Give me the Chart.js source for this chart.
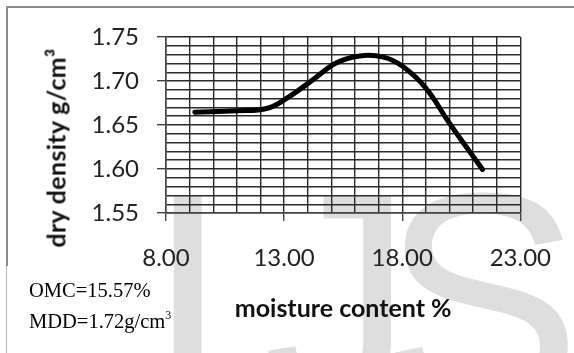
<!DOCTYPE html>
<html>
<head>
<meta charset="utf-8">
<script src="https://cdn.jsdelivr.net/npm/chart.js@4.4.1/dist/chart.umd.min.js"></script>
<style>
  html, body { margin: 0; padding: 0; background: #fff; }
  #wrap { position: relative; width: 574px; height: 353px; overflow: hidden; background: #fff; }
  #mark { position: absolute; left: 146px; top: 148px; font: 300px/1 "Liberation Sans", sans-serif; color: #dedede; white-space: nowrap; }
  #mark .j { margin-left: 34px; }
  #mark .s { margin-left: -32px; }
  #chart { position: absolute; left: 0; top: 0; }
  #frameTop { position: absolute; left: 6px; top: 6px; width: 568px; border-top: 2px solid #8c8c8c; }
  #frameLeft { position: absolute; left: 6px; top: 6px; height: 260px; border-left: 2px solid #8c8c8c; }
  #frameLeft2 { position: absolute; left: 6px; top: 266px; height: 87px; border-left: 1px solid #b4b4b4; }
  #ytitle { position: absolute; left: 56px; top: 148px; transform: translate(-50%, -50%) rotate(-90deg);
            font: bold 25px/1 Lato, sans-serif; letter-spacing: 0.3px; color: #111; white-space: nowrap; }
  .note { position: absolute; left: 29px; font: 20.5px/1 "Liberation Serif", serif; color: #000; white-space: nowrap; }
  .note sup { font-size: 12px; vertical-align: 9px; line-height: 0; }
</style>
</head>
<body>
<div id="wrap">
  <div id="mark"><span>I</span><span class="j">J</span><span class="s">S</span></div>
  <canvas id="chart" width="574" height="353"></canvas>
  <div id="frameTop"></div>
  <div id="frameLeft"></div>
  <div id="frameLeft2"></div>
  <div id="ytitle">dry density g/cm³</div>
  <div class="note" style="top:280px">OMC=15.57%</div>
  <div class="note" style="top:311px">MDD=1.72g/cm<sup>3</sup></div>
</div>
<script>
// compaction curve
var moisture = [9.22, 11.0, 12.3, 13.2, 14.2, 15.2, 16.2, 17.2, 18.0, 19.0, 20.0, 21.4];
var dryDensity = [1.6645, 1.6662, 1.669, 1.682, 1.701, 1.7205, 1.7285, 1.7272, 1.717, 1.692, 1.652, 1.5995];

var xRange = [8, 23];
var yRange = [1.55, 1.75];
var xStep = 1;
var yStep = 0.01;
var xMajor = [8, 13, 18, 23];
var yMajor = [1.55, 1.60, 1.65, 1.70, 1.75];

function isMajor(list, v) {
    for (var i = 0; i < list.length; i++) {
        if (Math.abs(list[i] - v) < 1e-6) return true;
    }
    return false;
}

var points = [];
for (var i = 0; i < moisture.length; i++) {
    points.push({ x: moisture[i], y: dryDensity[i] });
}

var gridColor = '#2a2a2a';
var labelFont = { family: 'Lato', size: 24 };

new Chart(document.getElementById('chart'), {
    type: 'scatter',
    data: {
        datasets: [{
            data: points,
            showLine: true,
            borderColor: '#000',
            borderWidth: 5,
            pointRadius: 0,
            tension: 0.4,
            borderCapStyle: 'round',
            borderJoinStyle: 'round'
        }]
    },
    options: {
        responsive: false,
        animation: false,
        layout: { padding: { top: 37, right: 53, bottom: 0, left: 0 } },
        plugins: { legend: { display: false }, tooltip: { enabled: false } },
        scales: {
            x: {
                type: 'linear',
                min: xRange[0],
                max: xRange[1],
                afterFit: function (scale) { scale.height = 140; },
                border: { color: '#444', width: 1.5 },
                grid: {
                    color: gridColor,
                    lineWidth: 1.4,
                    tickLength: 8,
                    tickColor: function (ctx) {
                        return ctx.tick && isMajor(xMajor, ctx.tick.value) ? '#444' : 'rgba(0,0,0,0)';
                    }
                },
                ticks: {
                    stepSize: xStep,
                    autoSkip: false,
                    maxRotation: 0,
                    padding: 23,
                    color: '#222',
                    font: labelFont,
                    callback: function (v) { return isMajor(xMajor, v) ? v.toFixed(2) : ''; }
                },
                title: {
                    display: true,
                    text: 'moisture content %',
                    color: '#111',
                    font: { family: 'Lato', size: 25, weight: 'bold' },
                    padding: { top: 0, bottom: 29 }
                }
            },
            y: {
                type: 'linear',
                min: yRange[0],
                max: yRange[1],
                afterFit: function (scale) { scale.width = 166; },
                border: { color: '#444', width: 1.5 },
                grid: {
                    color: gridColor,
                    lineWidth: 1.4,
                    tickLength: 9,
                    tickColor: function (ctx) {
                        return ctx.tick && isMajor(yMajor, ctx.tick.value) ? '#444' : 'rgba(0,0,0,0)';
                    }
                },
                ticks: {
                    stepSize: yStep,
                    autoSkip: false,
                    maxTicksLimit: 100,
                    padding: 18,
                    color: '#222',
                    font: labelFont,
                    callback: function (v) { return isMajor(yMajor, v) ? v.toFixed(2) : ''; }
                }
            }
        }
    }
});
</script>
</body>
</html>
